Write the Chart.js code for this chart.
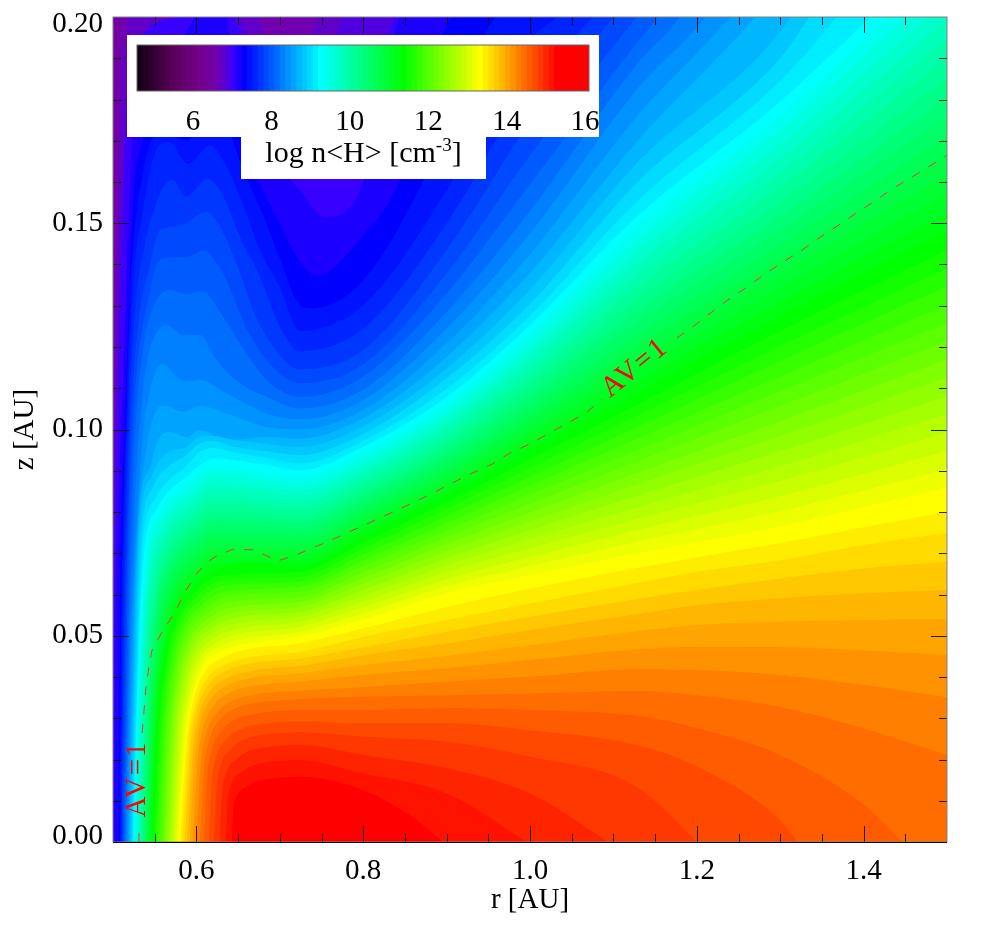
<!DOCTYPE html>
<html>
<head>
<meta charset="utf-8">
<title>log n&lt;H&gt;</title>
<script src="https://cdn.jsdelivr.net/npm/chart.js@4/dist/chart.umd.min.js"></script>
<style>
  html, body { margin: 0; padding: 0; background: #fff; }
  #wrap { position: relative; width: 981px; height: 925px; overflow: hidden; font-family: "Liberation Serif", serif; }
  #plot { position: absolute; left: 0; top: 0; }
  #barBox { position: absolute; left: 127px; top: 35px; width: 472px; height: 102px; background: #fff; }
  #barTitle { position: absolute; left: 241px; top: 137px; width: 245px; height: 42px; background: #fff;
              text-align: center; font-size: 30px; line-height: 29px; color: #000; white-space: nowrap; }
  #barTitle sup { font-size: 19px; line-height: 0; }
</style>
</head>
<body>
<div id="wrap">
  <canvas id="plot" width="981" height="925"></canvas>
  <div id="barBox"><canvas id="bar" width="472" height="102"></canvas></div>
  <div id="barTitle">log n&lt;H&gt; [cm<sup>-3</sup>]</div>
</div>
<script>
// --- axis ticks ---
const xMajor = [0.6, 0.8, 1.0, 1.2, 1.4];
const xMinor = [0.55, 0.65, 0.7, 0.75, 0.85, 0.9, 0.95, 1.05, 1.1, 1.15, 1.25, 1.3, 1.35, 1.45];
const yMajor = [0, 0.05, 0.1, 0.15, 0.2];
const yMinor = [0.01, 0.02, 0.03, 0.04, 0.06, 0.07, 0.08, 0.09, 0.11, 0.12, 0.13, 0.14, 0.16, 0.17, 0.18, 0.19];
const barTicks = [6, 8, 10, 12, 14, 16];

// --- colour bar levels, log n<H> at the lower edge of each band ---
const levels = [4.57, 4.71, 4.85, 4.99, 5.13, 5.27, 5.41, 5.55, 5.69, 5.83, 5.97, 6.11, 6.25, 6.39, 6.53, 6.67,
  6.81, 6.95, 7.09, 7.23, 7.37, 7.51, 7.65, 7.79, 7.93, 8.07, 8.21, 8.35, 8.49, 8.63, 8.77, 8.91, 9.05, 9.19,
  9.33, 9.47, 9.61, 9.75, 9.89, 10.03, 10.17, 10.31, 10.45, 10.59, 10.73, 10.87, 11.01, 11.15, 11.29, 11.43,
  11.57, 11.71, 11.85, 11.99, 12.13, 12.27, 12.41, 12.55, 12.69, 12.83, 12.97, 13.11, 13.25, 13.39, 13.53,
  13.67, 13.81, 13.95, 14.09, 14.23, 14.37, 14.51, 14.65, 14.79, 14.93, 15.07, 15.21, 15.35, 15.49, 15.63,
  15.77, 15.91];

// --- palette anchors: band number and colour ---
const stopBand = [0, 6, 11, 14, 16, 17, 18, 19, 33, 48, 62, 76, 81];
const stopColor = ['#150015', '#5a005a', '#75008a', '#7000b0', '#5000e0', '#3800ff', '#1c00ff', '#0000ff',
  '#00ffff', '#00ff00', '#ffff00', '#ff0000', '#ff0000'];

// --- contour lines: [r, z], below line cN the band is N ---
const c12 = [[.5,.215],[1.5,.215]];
const c13 = [[.5,.16],[.503,.2],[.51,.215],[.6,.215]];
const c14 = [[.5,.12],[.504,.165],[.51,.2],[.53,.215],[.8,.215]];
const c15 = [[.5,.08],[.503,.12],[.508,.17],[.52,.2],[.55,.21],[.66,.205],[.69,.195],[.73,.195],[.76,.205],[.8,.213]];
const c16 = [[.5,.055],[.504,.11],[.51,.155],[.52,.185],[.577,.2],[.6,.21],[.65,.2],[.69,.185],[.74,.18],[.776,.2],[.86,.213]];
const c17 = [[.5,.02],[.503,.08],[.508,.12],[.513,.16],[.52,.19],[.58,.2],[.615,.208],[.645,.2],[.68,.18],[.72,.168],[.76,.168],[.8,.185],[.84,.2],[.89,.213]];
const c18 = [[.501,0],[.503,.05],[.506,.08],[.511,.105],[.517,.14],[.523,.17],[.535,.19],[.58,.195],[.615,.204],[.63,.204],[.645,.19],[.68,.17],[.7242,.158],[.754,.1515],[.8,.16],[.84,.198],[.92,.213]];
const c19 = [[.5064,0],[.508,.05],[.5105,.08],[.5144,.1023],[.52,.136],[.524,.155],[.535,.17],[.55,.18],[.58,.18],[.615,.19],[.64,.18],[.66,.167],[.7,.15],[.7242,.1406],[.7445,.1374],[.8,.1471],[.844,.1604],[.9,.198],[1,.213]];
const c20 = [[.5077,0],[.5097,.05],[.512,.08],[.5156,.1023],[.52,.13],[.5364,.1628],[.56,.172],[.59,.17],[.615,.18],[.64,.172],[.652,.165],[.68,.152],[.7,.1415],[.7242,.1301],[.736,.1294],[.8,.1362],[.9,.172],[.952,.198],[1.05,.213]];
const c21 = [[.509,0],[.5114,.05],[.514,.08],[.5172,.1023],[.524,.135],[.535,.152],[.5444,.1628],[.5543,.1685],[.5663,.1697],[.5903,.1644],[.6163,.1689],[.6363,.1636],[.6523,.1564],[.6763,.1434],[.7,.1345],[.7242,.1239],[.8,.1301],[.9,.158],[1,.1945],[1.02,.198],[1.12,.213]];
const c22 = [[.5103,0],[.5131,.05],[.516,.08],[.5192,.1023],[.527,.13],[.5383,.145],[.5463,.1515],[.5603,.1588],[.5723,.1604],[.5863,.1564],[.6143,.1608],[.6323,.1564],[.6523,.1467],[.6763,.137],[.7,.125],[.7242,.119],[.8,.1245],[.9,.1499],[1,.1835],[1.075,.2],[1.12,.213]];
const c23 = [[.5116,0],[.5149,.05],[.518,.08],[.5216,.1023],[.53,.125],[.5444,.14],[.5563,.1483],[.5763,.1492],[.5863,.1499],[.6123,.1527],[.6283,.1491],[.6483,.1402],[.67,.128],[.7,.118],[.7242,.1146],[.8,.1192],[.9,.1435],[1,.1745],[1.1,.2],[1.15,.213]];
const c24 = [[.5129,0],[.5166,.05],[.52,.08],[.5244,.1023],[.5444,.1337],[.5583,.1414],[.5883,.1418],[.6083,.1434],[.6223,.141],[.6363,.1361],[.66,.1245],[.69,.1155],[.7242,.1112],[.8,.1158],[.9,.1378],[1,.1665],[1.1277,.2],[1.18,.213]];
const c25 = [[.5142,0],[.5183,.05],[.5225,.08],[.5276,.1023],[.5364,.12],[.5483,.1297],[.5683,.1338],[.5883,.1328],[.6063,.1336],[.6323,.1273],[.6523,.1208],[.6843,.112],[.7242,.1079],[.8,.1128],[.9,.133],[1,.1595],[1.1277,.1936],[1.154,.2],[1.2,.213]];
const c26 = [[.5155,0],[.52,.05],[.5256,.08],[.5324,.1023],[.5404,.116],[.5543,.1241],[.5643,.1253],[.5843,.1229],[.6043,.1229],[.6243,.1168],[.6523,.1112],[.6843,.1079],[.7242,.1051],[.8,.1097],[.9,.1285],[1,.153],[1.1277,.1885],[1.18,.2],[1.22,.213]];
const c27 = [[.5168,0],[.5219,.05],[.529,.08],[.5364,.0998],[.5444,.1095],[.5543,.1152],[.5603,.1158],[.5763,.1128],[.5863,.1116],[.6043,.112],[.6363,.1087],[.6843,.1039],[.7242,.1025],[.8,.1071],[.9,.1245],[1,.1475],[1.1277,.1823],[1.21,.2],[1.25,.213]];
const c28 = [[.5181,0],[.5236,.05],[.53,.078],[.5404,.0958],[.5484,.103],[.5603,.1059],[.5843,.1043],[.6043,.1057],[.6363,.1039],[.6843,.1006],[.7242,.1],[.8,.1047],[.9,.1209],[1,.1425],[1.1277,.1758],[1.24,.2],[1.29,.213]];
const c29 = [[.5194,0],[.5254,.05],[.5315,.08],[.5444,.091],[.5544,.0974],[.5683,.0994],[.5883,.0982],[.6043,.0998],[.6363,.0974],[.6843,.0982],[.7242,.0978],[.8,.1027],[.9,.1176],[1,.138],[1.1277,.1697],[1.27,.2],[1.32,.213]];
const c30 = [[.5207,0],[.5271,.05],[.5315,.075],[.547,.089],[.565,.0945],[.585,.0955],[.604,.0982],[.62,.0985],[.644,.0975],[.684,.0965],[.7242,.0958],[.8,.1008],[.9,.1148],[1,.134],[1.1277,.1645],[1.3,.1965],[1.35,.213]];
const c31 = [[.522,0],[.5288,.05],[.533,.072],[.549,.0865],[.566,.091],[.586,.0935],[.604,.0966],[.62,.0972],[.644,.0958],[.684,.0947],[.7242,.0938],[.8,.0989],[.9,.1124],[1,.1305],[1.1277,.1597],[1.3,.19],[1.335,.2],[1.38,.213]];
const c32 = [[.5233,0],[.5306,.05],[.5345,.0698],[.5515,.0835],[.5683,.088],[.5873,.091],[.6033,.0945],[.6193,.0955],[.6443,.0945],[.6843,.0931],[.7242,.0918],[.8,.0973],[.9,.1099],[1,.1276],[1.1277,.1552],[1.3,.1845],[1.368,.2],[1.42,.213]];
const c33 = [[.5244,0],[.5304,.0441],[.5364,.0683],[.5543,.0813],[.5703,.0857],[.5883,.0885],[.6043,.0914],[.6203,.093],[.6443,.0926],[.6843,.0914],[.7242,.0901],[.8,.0958],[.9,.1079],[1,.1253],[1.1277,.1515],[1.3,.1795],[1.5,.218]];
const c34 = [[.5259,0],[.5319,.043],[.5383,.067],[.5558,.0796],[.5888,.0867],[.6206,.0912],[.7242,.0885],[.8,.0944],[.9,.1063],[1,.1233],[1.1277,.1487],[1.3,.176],[1.5,.2133]];
const c35 = [[.5273,0],[.5333,.0419],[.5401,.0656],[.5572,.078],[.5894,.085],[.6208,.0894],[.7242,.087],[.8,.0929],[.9,.1047],[1,.1213],[1.1277,.1458],[1.3,.1726],[1.5,.2087]];
const c36 = [[.5288,0],[.5348,.0409],[.542,.0643],[.5587,.0763],[.5899,.0832],[.6211,.0876],[.7242,.0854],[.8,.0915],[.9,.1031],[1,.1192],[1.1277,.143],[1.3,.1691],[1.5,.204]];
const c37 = [[.5303,0],[.5363,.0398],[.5439,.0629],[.5602,.0746],[.5904,.0814],[.6214,.0858],[.7242,.0839],[.8,.09],[.9,.1015],[1,.1172],[1.1277,.1401],[1.3,.1656],[1.5,.1993]];
const c38 = [[.5317,0],[.5377,.0387],[.5458,.0616],[.5617,.073],[.591,.0797],[.6216,.084],[.7242,.0823],[.8,.0886],[.9,.1],[1,.1152],[1.1277,.1373],[1.3,.1622],[1.5,.1947]];
const c39 = [[.5332,0],[.5392,.0376],[.5476,.0602],[.5631,.0713],[.5915,.0779],[.6219,.0821],[.7242,.0807],[.8,.0871],[.9,.0984],[1,.1132],[1.1277,.1344],[1.3,.1587],[1.5,.19]];
const c40 = [[.5347,0],[.5407,.0365],[.5495,.0589],[.5646,.0696],[.592,.0761],[.6222,.0803],[.7242,.0792],[.8,.0857],[.9,.0968],[1,.1112],[1.1277,.1316],[1.3,.1552],[1.5,.1853]];
const c41 = [[.5362,0],[.5422,.0355],[.5514,.0575],[.5661,.0679],[.5925,.0743],[.6225,.0785],[.7242,.0776],[.8,.0842],[.9,.0952],[1,.1091],[1.1277,.1287],[1.3,.1517],[1.5,.1806]];
const c42 = [[.5376,0],[.5436,.0344],[.5532,.0562],[.5675,.0663],[.5931,.0726],[.6227,.0767],[.7242,.0761],[.8,.0828],[.9,.0936],[1,.1071],[1.1277,.1259],[1.3,.1483],[1.5,.176]];
const c43 = [[.5391,0],[.5451,.0333],[.5551,.0548],[.569,.0646],[.5936,.0708],[.623,.0749],[.7242,.0745],[.8,.0813],[.9,.092],[1,.1051],[1.1277,.123],[1.3,.1448],[1.5,.1713]];
const c44 = [[.5406,0],[.5466,.0322],[.557,.0535],[.5705,.0629],[.5941,.069],[.6233,.0731],[.7242,.0729],[.8,.0799],[.9,.0904],[1,.1031],[1.1277,.1202],[1.3,.1413],[1.5,.1666]];
const c45 = [[.542,0],[.548,.0311],[.5588,.0521],[.5719,.0613],[.5947,.0673],[.6235,.0713],[.7242,.0714],[.8,.0784],[.9,.0888],[1,.1011],[1.1277,.1173],[1.3,.1379],[1.5,.162]];
const c46 = [[.5435,0],[.5495,.0301],[.5607,.0508],[.5734,.0596],[.5952,.0655],[.6238,.0695],[.7242,.0698],[.8,.077],[.9,.0872],[1,.099],[1.1277,.1145],[1.3,.1344],[1.5,.1573]];
const c47 = [[.545,0],[.551,.029],[.5626,.0494],[.5749,.0579],[.5957,.0637],[.6241,.0677],[.7242,.0683],[.8,.0755],[.9,.0857],[1,.097],[1.1277,.1116],[1.3,.1309],[1.5,.1526]];
const c48 = [[.5464,0],[.5524,.0279],[.5644,.0481],[.5764,.0562],[.5963,.0619],[.6243,.0659],[.6563,.068],[.7242,.0667],[.8,.074],[.9,.0841],[1,.095],[1.1277,.1088],[1.3,.1275],[1.5,.148]];
const c49 = [[.5487,0],[.5548,.0276],[.5665,.0471],[.5787,.0552],[.5989,.0608],[.6272,.0646],[.7242,.0655],[.8,.0726],[.9,.0824],[1,.0928],[1.1277,.106],[1.3,.1239],[1.5,.1436]];
const c50 = [[.5511,0],[.5573,.0273],[.5687,.0461],[.581,.0542],[.6014,.0597],[.63,.0634],[.7242,.0643],[.8,.0711],[.9,.0807],[1,.0907],[1.1277,.1033],[1.3,.1202],[1.5,.1391]];
const c51 = [[.5531,0],[.5597,.0271],[.5708,.0452],[.5832,.0533],[.604,.0586],[.6329,.0621],[.7242,.0631],[.8,.0697],[.9,.079],[1,.0885],[1.1277,.1005],[1.3,.1166],[1.5,.1347]];
const c52 = [[.5555,0],[.5621,.0268],[.573,.0442],[.5855,.0523],[.6066,.0575],[.6357,.0608],[.7242,.0619],[.8,.0683],[.9,.0773],[1,.0864],[1.1277,.0977],[1.3,.1129],[1.5,.1303]];
const c53 = [[.5579,0],[.5646,.0265],[.5751,.0432],[.5878,.0513],[.6092,.0564],[.6386,.0596],[.7242,.0607],[.8,.0669],[.9,.0756],[1,.0842],[1.1277,.095],[1.3,.1093],[1.5,.1259]];
const c54 = [[.5603,0],[.567,.0262],[.5772,.0422],[.5901,.0503],[.6117,.0553],[.6415,.0583],[.7242,.0594],[.8,.0654],[.9,.0739],[1,.082],[1.1277,.0922],[1.3,.1057],[1.5,.1214]];
const c55 = [[.5623,0],[.5694,.0259],[.5794,.0412],[.5924,.0493],[.6143,.0542],[.6443,.057],[.7242,.0582],[.8,.064],[.9,.0722],[1,.0799],[1.1277,.0894],[1.3,.102],[1.5,.117]];
const c56 = [[.5647,0],[.5718,.0257],[.5815,.0403],[.5946,.0484],[.6169,.0531],[.6472,.0557],[.7242,.057],[.8,.0626],[.9,.0705],[1,.0777],[1.1277,.0866],[1.3,.0984],[1.5,.1126]];
const c57 = [[.5671,0],[.5743,.0254],[.5837,.0393],[.5969,.0474],[.6194,.052],[.65,.0545],[.7242,.0558],[.8,.0611],[.9,.0688],[1,.0756],[1.1277,.0839],[1.3,.0947],[1.5,.1081]];
const c58 = [[.5691,0],[.5767,.0251],[.5858,.0383],[.5992,.0464],[.622,.0509],[.6529,.0532],[.7242,.0546],[.8,.0597],[.9,.0671],[1,.0734],[1.1277,.0811],[1.3,.0911],[1.5,.1037]];
const c59 = [[.5715,0],[.5791,.0248],[.5879,.0373],[.6015,.0454],[.6246,.0498],[.6558,.0519],[.7242,.0534],[.8,.0583],[.9,.0654],[1,.0712],[1.1277,.0783],[1.3,.0875],[1.5,.0993]];
const c60 = [[.5735,0],[.5816,.0245],[.5901,.0363],[.6038,.0444],[.6271,.0487],[.6586,.0507],[.7242,.0522],[.8,.0569],[.9,.0637],[1,.0691],[1.1277,.0756],[1.3,.0838],[1.5,.0948]];
const c61 = [[.5759,0],[.584,.0243],[.5922,.0354],[.606,.0435],[.6297,.0476],[.6615,.0494],[.7242,.051],[.8,.0554],[.9,.062],[1,.0669],[1.1277,.0728],[1.3,.0802],[1.5,.0904]];
const c62 = [[.5783,0],[.5863,.024],[.5943,.0344],[.6083,.0425],[.6323,.0465],[.6643,.0481],[.7242,.0498],[.8,.054],[.9,.0603],[1,.0647],[1.1277,.07],[1.3,.0765],[1.4,.0812],[1.5,.086]];
const c63 = [[.5803,0],[.5879,.0236],[.5956,.0337],[.6094,.041],[.6326,.0448],[.6634,.0468],[.7242,.0482],[.8,.0518],[.9,.057],[1,.0614],[1.1277,.0664],[1.3,.0725],[1.4,.0763],[1.5,.08]];
const c64 = [[.5831,0],[.5902,.0226],[.5977,.0323],[.6114,.0392],[.6337,.0429],[.6632,.0447],[.7242,.0461],[.8,.0497],[.9,.0538],[1,.0578],[1.1277,.0627],[1.2,.0655],[1.3,.0683],[1.4,.072],[1.5,.0749]];
const c65 = [[.5859,0],[.5926,.0218],[.5998,.0312],[.6133,.0378],[.6348,.0414],[.6631,.0432],[.7242,.0445],[.8,.0472],[.9,.051],[1,.0546],[1.1277,.0589],[1.2,.0611],[1.3,.0639],[1.4,.0663],[1.5,.068]];
const c66 = [[.5891,0],[.5954,.0209],[.6022,.0299],[.6157,.0363],[.6362,.0397],[.6634,.0414],[.7242,.0427],[.8,.0453],[.9,.0481],[1,.0514],[1.1277,.0552],[1.2,.0574],[1.3,.0591],[1.4,.0603],[1.5,.0611]];
const c67 = [[.5923,0],[.5982,.02],[.6047,.0286],[.618,.0348],[.6377,.038],[.6637,.0397],[.7242,.0409],[.8,.0429],[.9,.0451],[1,.0477],[1.1277,.0511],[1.2,.0526],[1.3,.0534],[1.4,.0538],[1.5,.054]];
const c68 = [[.5959,0],[.6013,.0191],[.6076,.0272],[.6208,.0331],[.6396,.0362],[.6643,.0377],[.7242,.0389],[.8,.0405],[.9,.0421],[1,.0441],[1.1277,.0467],[1.2,.0473],[1.3,.0472],[1.4,.0464],[1.5,.0453]];
const c69 = [[.5999,0],[.6049,.018],[.6109,.0257],[.6239,.0312],[.6419,.0341],[.6654,.0356],[.7242,.0367],[.8,.0376],[.9,.0389],[1,.0401],[1.1277,.0419],[1.2,.0417],[1.3,.0405],[1.4,.0381],[1.5,.0351]];
const c70 = [[.6043,0],[.6089,.017],[.6146,.0242],[.6274,.0294],[.6446,.0322],[.6669,.0336],[.7242,.0346],[.8,.0352],[.9,.0356],[1,.036],[1.1277,.0366],[1.2,.0356],[1.3,.0328],[1.4,.0275],[1.5,.0211]];
const c71 = [[.6091,0],[.6132,.0157],[.6187,.0224],[.6314,.0272],[.6477,.0298],[.6687,.031],[.7242,.032],[.8,.032],[.9,.0324],[1,.032],[1.1277,.0306],[1.2,.0276],[1.3,.0211],[1.4,.0091],[1.447,0]];
const c72 = [[.6147,0],[.6184,.0144],[.6236,.0205],[.6361,.0249],[.6516,.0272],[.6714,.0284],[.7242,.0293],[.8,.0288],[.9,.0288],[1,.0271],[1.1277,.0235],[1.2,.0183],[1.3,.0053],[1.321,0]];
const c73 = [[.6211,0],[.6244,.013],[.6292,.0186],[.6417,.0226],[.6562,.0247],[.6749,.0258],[.7242,.0266],[.8,.0255],[.9,.0243],[1,.0207],[1.1277,.0134],[1.2,0]];
const c74 = [[.6279,0],[.6308,.0115],[.6353,.0165],[.6476,.02],[.6613,.0219],[.6788,.0228],[.7242,.0235],[.8,.0211],[.9,.0179],[1,.0118],[1.094,0]];
const c75 = [[.6351,0],[.6375,.0098],[.6418,.0139],[.654,.0169],[.6668,.0185],[.683,.0193],[.7242,.0199],[.8,.0166],[.9,.0118],[.996,0]];
const c76 = [[.6423,0],[.6443,.0077],[.6483,.0111],[.6603,.0134],[.6723,.0147],[.6873,.0153],[.7242,.0158],[.8044,.0122],[.8644,.0053],[.8957,0]];
const c77 = [[.6623,0],[.666,.0045],[.69,.0085],[.7242,.0102],[.76,.0075],[.794,0]];

const contours = [c12, c13, c14, c15, c16, c17, c18, c19, c20, c21, c22, c23, c24, c25, c26, c27, c28, c29, c30,
  c31, c32, c33, c34, c35, c36, c37, c38, c39, c40, c41, c42, c43, c44, c45, c46, c47, c48, c49, c50, c51, c52,
  c53, c54, c55, c56, c57, c58, c59, c60, c61, c62, c63, c64, c65, c66, c67, c68, c69, c70, c71, c72, c73, c74,
  c75, c76, c77];
const firstBand = 12;

// --- AV=1 dashed line, null where the label sits on it ---
const avR = [.531, .5315, .533, .535, .5396, .543, .5468, .5588, .5743, .5863, .6007, .6163, .6223, .6439, .669, .6906,
  .6966, .7158, .7398, .7638, .7878, .8118, .8357, .8597, .8837, .9065, .9305, .9544, .976, 1.0, 1.0228, 1.0456,
  1.0683, 1.0863, 1.13, 1.1763, 1.1978, 1.2182, 1.2386, 1.2602, 1.2818, 1.3034, 1.3261, 1.3465, 1.3681, 1.3909,
  1.4113, 1.434, 1.4556, 1.4772, 1.5];
const avZ = [0, .0045, null, .0264, .0376, .0424, .0465, .0509, .0557, .0606, .0652, .0683, .0691, .071, .0708, .0688,
  .0681, .0693, .0713, .0734, .0756, .0778, .08, .0822, .0846, .087, .0894, .0916, .0943, .0965, .0991, .1016,
  .1042, .1074, null, .1222, .1253, .1285, .1316, .1345, .1377, .1406, .1435, .1464, .1493, .1524,
  .1551, .1583, .1609, .1636, .1665];

// AV=1 labels: position in data units and angle
const avLabelText = ['AV=1', 'AV=1'];
const avLabelR = [.5288, 1.1259];
const avLabelZ = [.0153, .1149];
const avLabelAngle = [-90, -39];

const FONT = '"Liberation Serif", serif';
Chart.defaults.font.family = FONT;
Chart.defaults.color = '#000';

function hexToRgb(h) {
  return [1, 3, 5].map(i => parseInt(h.substr(i, 2), 16));
}

// colour of a band number from the palette anchors
function bandColor(band) {
  let i = 0;
  while (i < stopBand.length - 2 && band > stopBand[i + 1]) i++;
  const t = Math.min(1, (band - stopBand[i]) / (stopBand[i + 1] - stopBand[i]));
  const a = hexToRgb(stopColor[i]), b = hexToRgb(stopColor[i + 1]);
  return `rgb(${a.map((v, k) => Math.round(v + (b[k] - v) * t)).join(',')})`;
}

// inward ticks on all four sides and the box round the plot
const frameTicks = {
  id: 'frameTicks',
  afterDatasetsDraw(chart) {
    const { ctx, chartArea: a, scales: { x, y } } = chart;
    ctx.save();
    ctx.strokeStyle = 'rgba(0,0,0,0.85)';
    ctx.lineWidth = 1;
    const xTick = (v, len) => {
      const p = Math.round(x.getPixelForValue(v)) + 0.5;
      ctx.beginPath();
      ctx.moveTo(p, a.bottom); ctx.lineTo(p, a.bottom - len);
      ctx.moveTo(p, a.top); ctx.lineTo(p, a.top + len);
      ctx.stroke();
    };
    const yTick = (v, len) => {
      const p = Math.round(y.getPixelForValue(v)) + 0.5;
      ctx.beginPath();
      ctx.moveTo(a.left, p); ctx.lineTo(a.left + len, p);
      ctx.moveTo(a.right, p); ctx.lineTo(a.right - len, p);
      ctx.stroke();
    };
    xMajor.forEach(v => xTick(v, 16));
    xMinor.forEach(v => xTick(v, 8));
    yMajor.slice(1, -1).forEach(v => yTick(v, 16));
    yMinor.forEach(v => yTick(v, 8));
    ctx.strokeStyle = '#808080';
    ctx.strokeRect(a.left, a.top, a.right - a.left, a.bottom - a.top);
    ctx.strokeStyle = '#000';
    ctx.beginPath();
    ctx.moveTo(a.left, a.bottom + 0.5); ctx.lineTo(a.right, a.bottom + 0.5);
    ctx.stroke();
    ctx.restore();
  }
};

// the two rotated AV=1 labels
const avLabels = {
  id: 'avLabels',
  afterDatasetsDraw(chart) {
    const { ctx, scales: { x, y } } = chart;
    avLabelText.forEach((txt, i) => {
      ctx.save();
      ctx.translate(x.getPixelForValue(avLabelR[i]), y.getPixelForValue(avLabelZ[i]));
      ctx.rotate(avLabelAngle[i] * Math.PI / 180);
      ctx.font = '29px ' + FONT;
      ctx.letterSpacing = '2px';
      ctx.fillStyle = '#ff0000';
      ctx.textAlign = 'center';
      ctx.textBaseline = 'middle';
      ctx.fillText(txt, 0, 0);
      ctx.restore();
    });
  }
};

// first and last z labels sit inside the axis ends
const shiftEndLabels = {
  id: 'shiftEndLabels',
  beforeDraw(chart) {
    const items = chart.scales.y.getLabelItems();
    items[0].options.translation[1] -= 6;
    items[items.length - 1].options.translation[1] += 7;
  }
};

const contourSets = contours.map((line, i) => ({
  data: line.map(([x, y]) => ({ x, y })),
  backgroundColor: bandColor(firstBand + i),
  borderWidth: 0,
  pointRadius: 0,
  fill: 'start',
  cubicInterpolationMode: 'monotone',
  order: contours.length - i
}));

const avSet = {
  data: avR.map((x, i) => ({ x, y: avZ[i] })),
  borderColor: '#e63c3c',
  borderWidth: 1,
  borderDash: [9, 10],
  pointRadius: 0,
  fill: false,
  spanGaps: false,
  tension: 0,
  order: -1
};

new Chart(document.getElementById('plot'), {
  type: 'line',
  data: { datasets: [...contourSets, avSet] },
  plugins: [shiftEndLabels, frameTicks, avLabels],
  options: {
    responsive: false,
    animation: false,
    layout: { padding: { top: 17, right: 34 } },
    plugins: { legend: { display: false }, tooltip: { enabled: false } },
    scales: {
      x: {
        type: 'linear',
        min: 0.5,
        max: 1.5,
        afterBuildTicks: s => { s.ticks = xMajor.map(value => ({ value })); },
        afterFit: s => { s.height = 83; s.paddingLeft = 0; s.paddingRight = 0; },
        grid: { display: false },
        border: { display: false },
        ticks: { font: { size: 29 }, padding: 4, maxRotation: 0, autoSkip: false, callback: v => v.toFixed(1) },
        title: { display: true, text: 'r [AU]', font: { size: 29 }, padding: { top: 0, bottom: 7 } }
      },
      y: {
        type: 'linear',
        min: 0,
        max: 0.2,
        afterBuildTicks: s => { s.ticks = yMajor.map(value => ({ value })); },
        afterFit: s => { s.width = 113; s.paddingTop = 0; s.paddingBottom = 0; },
        grid: { display: false },
        border: { display: false },
        ticks: { font: { size: 29 }, padding: 2, autoSkip: false, callback: v => v.toFixed(2) },
        title: { display: true, text: 'z [AU]', font: { size: 29 }, padding: { top: 8, bottom: 0 } }
      }
    }
  }
});

// colour bar: one filled strip per level, later levels paint over earlier ones
const barMax = 16.1;
const barSets = levels.map((lv, i) => ({
  data: [{ x: lv, y: 1 }, { x: barMax, y: 1 }],
  backgroundColor: bandColor(i),
  borderWidth: 0,
  pointRadius: 0,
  fill: 'start',
  order: levels.length - i
}));

const barFrame = {
  id: 'barFrame',
  afterDatasetsDraw(chart) {
    const { ctx, chartArea: a } = chart;
    ctx.save();
    ctx.strokeStyle = '#666';
    ctx.lineWidth = 1;
    ctx.strokeRect(a.left, a.top, a.right - a.left, a.bottom - a.top);
    ctx.restore();
  }
};

new Chart(document.getElementById('bar'), {
  type: 'line',
  data: { datasets: barSets },
  plugins: [barFrame],
  options: {
    responsive: false,
    animation: false,
    layout: { padding: { left: 10, right: 10, top: 10 } },
    plugins: { legend: { display: false }, tooltip: { enabled: false } },
    scales: {
      x: {
        type: 'linear',
        min: levels[0],
        max: barMax,
        afterBuildTicks: s => { s.ticks = barTicks.map(value => ({ value })); },
        afterFit: s => { s.height = 46; s.paddingLeft = 0; s.paddingRight = 0; },
        grid: { display: false },
        border: { display: false },
        ticks: { font: { size: 29 }, padding: 6, maxRotation: 0, autoSkip: false }
      },
      y: { display: false, min: 0, max: 1 }
    }
  }
});
</script>
</body>
</html>
